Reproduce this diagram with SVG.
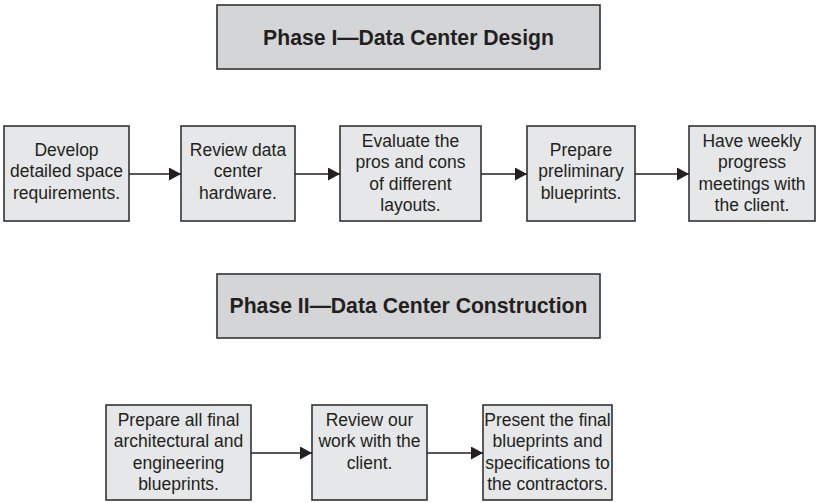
<svg xmlns="http://www.w3.org/2000/svg" width="817" height="503" viewBox="0 0 817 503">
<defs>
<style>
.hdr{fill:#d4d5d7;stroke:#333333;stroke-width:1.6}
.box{fill:#e6e7e8;stroke:#333333;stroke-width:1.6}
.ht{font-family:"Liberation Sans",Arial,sans-serif;font-weight:bold;font-size:21.2px;fill:#231f20;text-anchor:middle}
.t{font-family:"Liberation Sans",Arial,sans-serif;font-size:17.5px;fill:#231f20;text-anchor:middle}
.c{stroke:#231f20;stroke-width:1.5;fill:none}
</style>
<marker id="ah" markerWidth="13" markerHeight="13" refX="12" refY="6.5" orient="auto" markerUnits="userSpaceOnUse">
<path d="M0,0 L12,6.5 L0,13 Z" fill="#231f20"/>
</marker>
</defs>
<rect width="817" height="503" fill="#ffffff"/>
<g id="phase1">
<rect class="hdr" x="217" y="5" width="383" height="64"/>
<text class="ht" x="408.5" y="44.5">Phase I—Data Center Design</text>
</g>
<g id="step1">
<rect class="box" x="4" y="126" width="125" height="95"/>
<text class="t" x="66.5" y="155.5">Develop</text>
<text class="t" x="66.5" y="177">detailed space</text>
<text class="t" x="66.5" y="198.5">requirements.</text>
</g>
<g id="step2">
<rect class="box" x="181" y="126" width="114" height="95"/>
<text class="t" x="238" y="155.5">Review data</text>
<text class="t" x="238" y="177">center</text>
<text class="t" x="238" y="198.5">hardware.</text>
</g>
<g id="step3">
<rect class="box" x="340" y="126" width="141" height="95"/>
<text class="t" x="410.5" y="146.5">Evaluate the</text>
<text class="t" x="410.5" y="168">pros and cons</text>
<text class="t" x="410.5" y="189.5">of different</text>
<text class="t" x="410.5" y="211">layouts.</text>
</g>
<g id="step4">
<rect class="box" x="527" y="126" width="108" height="95"/>
<text class="t" x="581" y="155.5">Prepare</text>
<text class="t" x="581" y="177">preliminary</text>
<text class="t" x="581" y="198.5">blueprints.</text>
</g>
<g id="step5">
<rect class="box" x="689" y="126" width="126" height="95"/>
<text class="t" x="752" y="146.5">Have weekly</text>
<text class="t" x="752" y="168">progress</text>
<text class="t" x="752" y="189.5">meetings with</text>
<text class="t" x="752" y="211">the client.</text>
</g>
<g id="phase2">
<rect class="hdr" x="217" y="274" width="383" height="64"/>
<text class="ht" x="408.5" y="313">Phase II—Data Center Construction</text>
</g>
<g id="step6">
<rect class="box" x="106" y="405" width="145" height="95"/>
<text class="t" x="178.5" y="425.5">Prepare all final</text>
<text class="t" x="178.5" y="447">architectural and</text>
<text class="t" x="178.5" y="468.5">engineering</text>
<text class="t" x="178.5" y="490">blueprints.</text>
</g>
<g id="step7">
<rect class="box" x="312" y="405" width="115" height="95"/>
<text class="t" x="369.5" y="425.5">Review our</text>
<text class="t" x="369.5" y="447">work with the</text>
<text class="t" x="369.5" y="468.5">client.</text>
</g>
<g id="step8">
<rect class="box" x="483" y="405" width="129" height="95"/>
<text class="t" x="547.5" y="425.5">Present the final</text>
<text class="t" x="547.5" y="447">blueprints and</text>
<text class="t" x="547.5" y="468.5">specifications to</text>
<text class="t" x="547.5" y="490">the contractors.</text>
</g>
<g id="connectors">
<line class="c" x1="129" y1="174" x2="181" y2="174" marker-end="url(#ah)"/>
<line class="c" x1="295" y1="174" x2="340" y2="174" marker-end="url(#ah)"/>
<line class="c" x1="481" y1="174" x2="527" y2="174" marker-end="url(#ah)"/>
<line class="c" x1="635" y1="174" x2="689" y2="174" marker-end="url(#ah)"/>
<line class="c" x1="251" y1="453" x2="312" y2="453" marker-end="url(#ah)"/>
<line class="c" x1="427" y1="453" x2="483" y2="453" marker-end="url(#ah)"/>
</g>
</svg>
